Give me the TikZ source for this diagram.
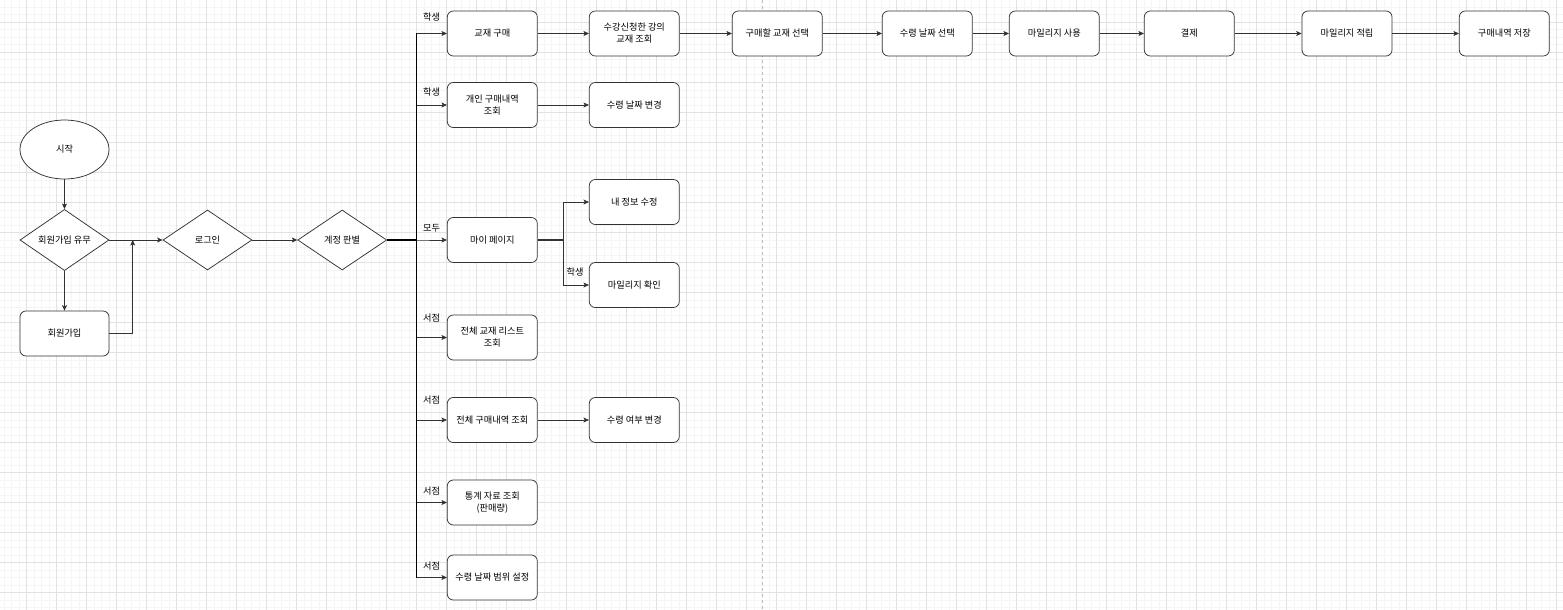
\documentclass[tikz,border=0pt]{standalone}
\usepackage{fontspec}
\setmainfont{Noto Sans CJK KR}
\usetikzlibrary{shapes.geometric,arrows.meta}
\definecolor{linec}{HTML}{333333}
\definecolor{gridminor}{HTML}{F5F5F5}
\definecolor{gridmajor}{HTML}{E2E2E2}
\definecolor{pagec}{HTML}{BDBDBD}
\begin{document}
\begin{tikzpicture}[x=1pt,y=-1pt,
  lbl/.style={font=\fontsize{9.2}{12}\selectfont, text=black},
  box/.style={lbl, draw=linec, line width=0.75pt, rounded corners=6pt, fill=white,
    minimum width=90pt, minimum height=45pt, inner sep=1pt, align=center},
  decision/.style={lbl, draw=linec, line width=0.75pt, diamond, fill=white,
    minimum width=89pt, minimum height=60pt, inner sep=0pt},
  terminal/.style={lbl, draw=linec, line width=0.75pt, ellipse, fill=white,
    minimum width=89pt, minimum height=59pt, inner sep=0pt},
  edge/.style={draw=linec, line width=0.75pt, -{Stealth[length=5.5pt,width=5pt,inset=1.3pt]}},
  trunk/.style={draw=black, line width=1.2pt},
  tag/.style={lbl, inner sep=0pt},
  minorline/.style={draw=gridminor, line width=0.6pt},
  majorline/.style={draw=gridmajor, line width=0.6pt}]

% canvas and background grid
\useasboundingbox (0,0) rectangle (1563,610);
\fill[white] (0,0) rectangle (1563,610);
\foreach \i in {0,...,208} {\draw[minorline] ({4.2+7.5*\i},0) -- ({4.2+7.5*\i},610);}
\foreach \j in {0,...,82} {\draw[minorline] (0,{-0.2+7.5*\j}) -- (1563,{-0.2+7.5*\j});}
\foreach \i in {0,...,51} {\draw[majorline] ({26.7+30*\i},0) -- ({26.7+30*\i},610);}
\foreach \j in {0,...,19} {\draw[majorline] (0,{22.3+30*\j}) -- (1563,{22.3+30*\j});}

% page break
\draw[pagec, line width=0.75pt, dash pattern=on 3pt off 3pt] (762.3,0) -- (762.3,610);

% entry flow
\node[terminal] (start)  at (64.5,149.5) {시작};
\node[decision] (member) at (64.5,240)   {회원가입 유무};
\node[box, minimum width=89pt] (signup) at (64.5,333.5) {회원가입};
\node[decision] (login)  at (207.5,240)  {로그인};
\node[decision] (judge)  at (342.2,240)  {계정 판별};

% role branches
\node[box] (buy)      at (492.3,33.5)  {교재 구매};
\node[box] (hist)     at (492.3,105)   {개인 구매내역\\조회};
\node[box] (mypage)   at (492.3,240)   {마이 페이지};
\node[box] (booklist) at (492.3,337.5) {전체 교재 리스트\\조회};
\node[box] (allhist)  at (492.3,420)   {전체 구매내역 조회};
\node[box] (stats)    at (492.3,502.5) {통계 자료 조회\\(판매량)};
\node[box] (range)    at (492.3,577.5) {수령 날짜 범위 설정};

% second column
\node[box] (lectbook) at (634.3,33.5) {수강신청한 강의\\교재 조회};
\node[box] (datechg)  at (634.3,105)  {수령 날짜 변경};
\node[box] (myinfo)   at (634.3,202)  {내 정보 수정};
\node[box] (mileage)  at (634.3,285)  {마일리지 확인};
\node[box] (recvchg)  at (634.3,420)  {수령 여부 변경};

% purchase row
\node[box] (pick)    at (777.3,33.5)  {구매할 교재 선택};
\node[box] (date)    at (927.3,33.5)  {수령 날짜 선택};
\node[box] (usemile) at (1054.3,33.5) {마일리지 사용};
\node[box] (pay)     at (1189.3,33.5) {결제};
\node[box] (earn)    at (1347,33.5)   {마일리지 적립};
\node[box] (save)    at (1504.3,33.5) {구매내역 저장};

% junction points
\coordinate (merge) at (132.7,240);
\coordinate (bus)   at (416.7,240);
\coordinate (myjn)  at (563.3,240);

% entry connectors
\draw[edge] (start) -- (member);
\draw[edge] (member) -- (signup);
\draw[edge] (member.east) -- (login.west);
\draw[edge] (signup.east) -| (merge);
\draw[edge] (login.east) -- (judge.west);

% role connectors
\foreach \t in {buy,hist,mypage,booklist,allhist,stats,range}
  {\draw[edge] (judge.east) -- (bus) |- (\t.west);}
\draw[trunk, line width=1.6pt] (judge.east) -- (bus);
\draw[trunk] (bus |- buy.west) -- (bus |- range.west);

\draw[edge] (buy) -- (lectbook);
\draw[edge] (hist) -- (datechg);
\draw[edge] (allhist) -- (recvchg);
\draw[edge] (mypage.east) -- (myjn) |- (myinfo.west);
\draw[edge] (mypage.east) -- (myjn) |- (mileage.west);
\draw[draw=linec, line width=1.3pt] (mypage.east) -- (myjn);

\draw[edge] (lectbook) -- (pick);
\draw[edge] (pick) -- (date);
\draw[edge] (date) -- (usemile);
\draw[edge] (usemile) -- (pay);
\draw[edge] (pay) -- (earn);
\draw[edge] (earn) -- (save);

% branch labels
\node[tag] (t1) at (431.5,17.3)  {학생};
\node[tag] (t2) at (431.5,91.7)  {학생};
\node[tag] (t3) at (431.5,228.3) {모두};
\node[tag] (t4) at (431.5,317.7) {서점};
\node[tag] (t5) at (431.5,400)   {서점};
\node[tag] (t6) at (431.5,490.7) {서점};
\node[tag] (t7) at (431.5,565.7) {서점};
\node[tag] (t8) at (575,271.7)   {학생};
\end{tikzpicture}
\end{document}
